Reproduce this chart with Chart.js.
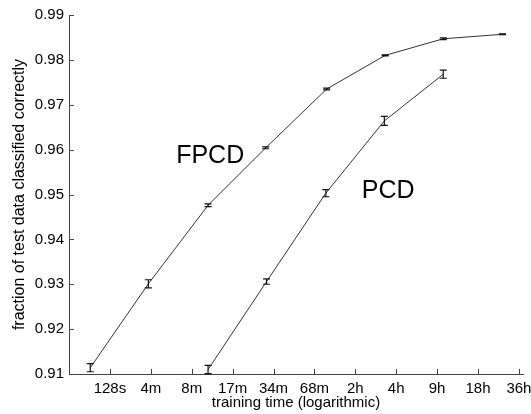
<!DOCTYPE html>
<html>
<head>
<meta charset="utf-8">
<script src="https://cdn.jsdelivr.net/npm/chart.js@4/dist/chart.umd.min.js"></script>
<style>
html,body{margin:0;padding:0;background:#fff;}
#wrap{width:531px;height:414px;position:relative;}
</style>
</head>
<body>
<div id="wrap"><canvas id="c" width="531" height="414"></canvas></div>
<script>
// x values are log2(training time / 64 s)
const tickLabels = ['128s','4m','8m','17m','34m','68m','2h','4h','9h','18h','36h'];
const tickValues = [1,2,3,4,5,6,7,8,9,10,11];
const yTicks = [0.91,0.92,0.93,0.94,0.95,0.96,0.97,0.98,0.99];

const fpcdX = [0.52, 1.94, 3.40, 4.81, 6.30, 7.73, 9.15, 10.60];
const fpcdY = [0.9114, 0.9301, 0.9476, 0.9604, 0.9735, 0.9810, 0.9847, 0.9857];
const fpcdErr = [0.0009, 0.0009, 0.0003, 0.0002, 0.0002, 0.0001, 0.0002, 0.0001];

const pcdX = [3.40, 4.83, 6.28, 7.71, 9.15];
const pcdY = [0.9110, 0.9306, 0.9503, 0.9664, 0.9768];
const pcdErr = [0.0009, 0.0006, 0.0008, 0.0010, 0.0009];

const seriesLabels = [
  {text:'FPCD', x:2.62, y:0.9585},
  {text:'PCD', x:7.16, y:0.9507}
];

const FONT = '"Liberation Sans", Arial, Helvetica, sans-serif';

function pts(xs, ys){ return xs.map((x,i)=>({x:x, y:ys[i]})); }

const errPlugin = {
  id:'errbars',
  afterDatasetsDraw(chart){
    const ctx = chart.ctx;
    const xs = chart.scales.x, ys = chart.scales.y;
    const sets = [[fpcdX,fpcdY,fpcdErr],[pcdX,pcdY,pcdErr]];
    ctx.save();
    ctx.strokeStyle = '#111';
    ctx.lineWidth = 1.2;
    sets.forEach(([X,Y,E])=>{
      X.forEach((x,i)=>{
        const px = xs.getPixelForValue(x);
        const p1 = ys.getPixelForValue(Y[i]+E[i]);
        const p2 = ys.getPixelForValue(Y[i]-E[i]);
        ctx.beginPath();
        ctx.moveTo(px,p1); ctx.lineTo(px,p2);
        ctx.moveTo(px-3.5,p1); ctx.lineTo(px+3.5,p1);
        ctx.moveTo(px-3.5,p2); ctx.lineTo(px+3.5,p2);
        ctx.stroke();
      });
    });
    // series labels
    ctx.fillStyle = '#000';
    ctx.font = '25px ' + FONT;
    ctx.textBaseline = 'middle';
    ctx.textAlign = 'left';
    seriesLabels.forEach(l=>{
      ctx.fillText(l.text, xs.getPixelForValue(l.x), ys.getPixelForValue(l.y));
    });
    // inward ticks
    ctx.strokeStyle = '#444';
    ctx.lineWidth = 1;
    const ca = chart.chartArea;
    ctx.beginPath();
    yTicks.forEach(v=>{
      const py = Math.round(ys.getPixelForValue(v))+0.5;
      ctx.moveTo(ca.left, py); ctx.lineTo(ca.left+5, py);
    });
    tickValues.forEach(v=>{
      const px = Math.round(xs.getPixelForValue(v))+0.5;
      ctx.moveTo(px, ca.bottom); ctx.lineTo(px, ca.bottom-5);
    });
    ctx.stroke();
    ctx.restore();
  }
};

new Chart(document.getElementById('c'), {
  type:'scatter',
  data:{
    datasets:[
      {label:'FPCD', data:pts(fpcdX,fpcdY), showLine:true, borderColor:'#333', borderWidth:1, pointRadius:0, fill:false, tension:0},
      {label:'PCD', data:pts(pcdX,pcdY), showLine:true, borderColor:'#333', borderWidth:1, pointRadius:0, fill:false, tension:0}
    ]
  },
  options:{
    responsive:false,
    animation:false,
    devicePixelRatio:1,
    layout:{padding:{left:4, right:8, top:15, bottom:2}},
    plugins:{legend:{display:false}, tooltip:{enabled:false}},
    scales:{
      x:{
        type:'linear', min:0, max:11.1,
        afterBuildTicks(s){ s.ticks = tickValues.map(v=>({value:v})); },
        afterFit(s){ s.height = 38; s.paddingLeft = 0; s.paddingRight = 0; },
        grid:{display:true, drawOnChartArea:false, drawTicks:false},
        border:{display:true, color:'#444', width:1},
        ticks:{autoSkip:false, maxRotation:0, padding:6, color:'#000',
          font:{family:FONT, size:15},
          callback:(v)=>{ const i = tickValues.indexOf(v); return i>=0 ? tickLabels[i] : ''; }},
        title:{display:true, text:'training time (logarithmic)', color:'#000',
          font:{family:FONT, size:15}, padding:{top:-4, bottom:0}}
      },
      y:{
        type:'linear', min:0.91, max:0.99,
        afterBuildTicks(s){ s.ticks = yTicks.map(v=>({value:v})); },
        afterFit(s){ s.width = 65; s.paddingTop = 0; s.paddingBottom = 0; },
        grid:{display:true, drawOnChartArea:false, drawTicks:false},
        border:{display:true, color:'#444', width:1},
        ticks:{padding:5, color:'#000', font:{family:FONT, size:15},
          callback:(v)=>Number(v).toFixed(2)},
        title:{display:true, text:'fraction of test data classified correctly', color:'#000',
          font:{family:FONT, size:16}, padding:{top:6, bottom:2}}
      }
    }
  },
  plugins:[errPlugin]
});
</script>
</body>
</html>
